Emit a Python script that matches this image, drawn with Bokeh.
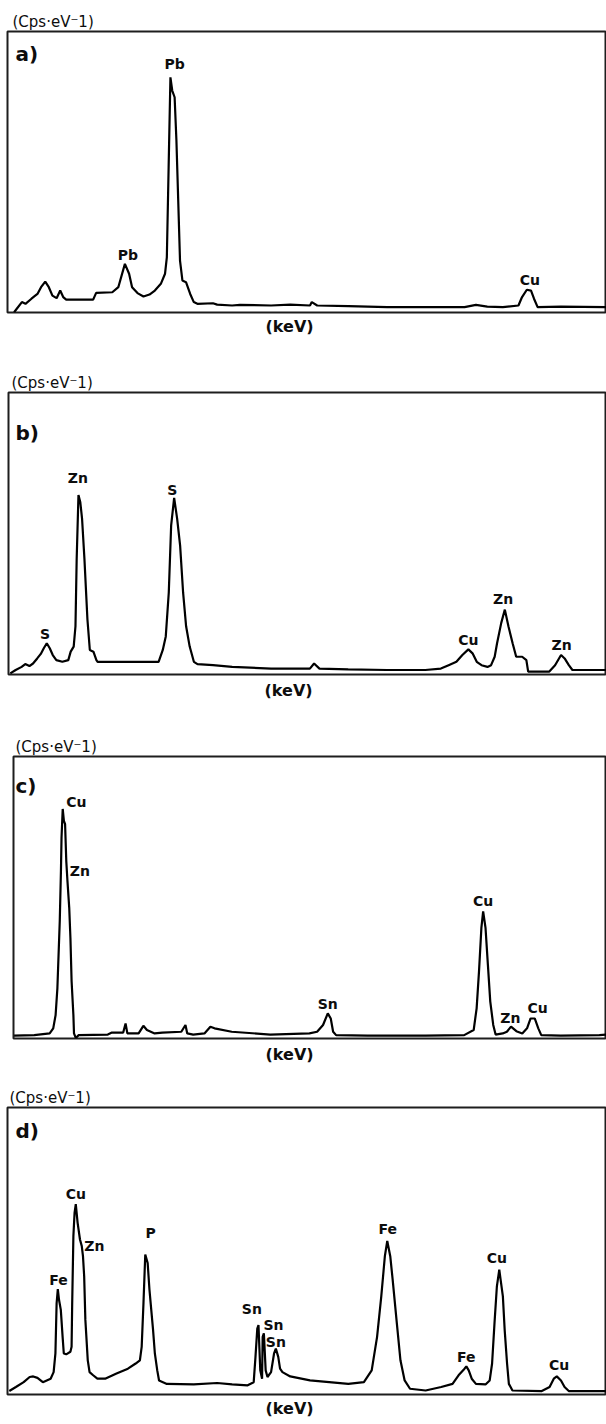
from bokeh.plotting import figure
from bokeh.layouts import column, row
from bokeh.models import Range1d, Label, ColumnDataSource, Title
from bokeh.core.properties import value
from bokeh.embed import file_html
from bokeh.resources import INLINE

# ---------------- data (energy in keV, intensity in relative counts) ----------------
energy_a = [0.11, 0.24, 0.30, 0.40, 0.50, 0.56, 0.63, 0.69, 0.75, 0.82, 0.88, 0.93, 0.98, 1.43, 1.48,
            1.75, 1.85, 1.96, 2.03, 2.08, 2.17, 2.27, 2.37, 2.46, 2.56, 2.63, 2.66, 2.69, 2.72, 2.75,
            2.79, 2.82, 2.85, 2.88, 2.92, 2.98, 3.05, 3.11, 3.17, 3.43, 3.50, 3.75, 3.88, 4.40, 4.72,
            5.05, 5.08, 5.17, 5.69, 6.34, 6.98, 7.63, 7.82, 8.01, 8.27, 8.53, 8.59, 8.67, 8.74, 8.79,
            8.85, 9.24, 10.0]
counts_a = [0.1, 3.7, 3.1, 4.9, 6.6, 9.0, 11.0, 9.0, 6.0, 5.1, 7.8, 5.5, 4.6, 4.6, 7.0,
            7.2, 9.0, 17.3, 13.8, 9.0, 6.9, 5.7, 6.4, 7.8, 10.2, 13.8, 19.6, 51.7, 83.7, 79.0,
            76.6, 61.2, 39.9, 18.5, 11.4, 10.8, 6.6, 3.7, 3.1, 3.3, 2.8, 2.5, 2.7, 2.5, 2.8,
            2.5, 3.7, 2.5, 2.3, 1.9, 1.9, 1.9, 2.7, 2.1, 1.9, 2.5, 5.5, 8.1, 7.8, 4.9,
            1.9, 2.1, 1.9]
peaks_a = ["Pb", "Pb", "Cu"]
peak_x_a = [2.79, 2.01, 8.72]
peak_y_a = [88.5, 20.3, 11.4]

energy_b = [0.03, 0.12, 0.22, 0.28, 0.35, 0.41, 0.48, 0.54, 0.59, 0.64, 0.69, 0.74, 0.80, 0.90, 1.00,
            1.04, 1.09, 1.12, 1.14, 1.17, 1.20, 1.23, 1.27, 1.32, 1.36, 1.42, 1.47, 1.49, 1.80, 2.26,
            2.51, 2.58, 2.63, 2.68, 2.72, 2.77, 2.82, 2.87, 2.92, 2.97, 3.03, 3.10, 3.16, 3.42, 3.74,
            4.39, 5.04, 5.11, 5.20, 5.68, 6.33, 6.97, 7.23, 7.36, 7.49, 7.59, 7.69, 7.76, 7.83, 7.91,
            8.01, 8.07, 8.13, 8.17, 8.24, 8.30, 8.36, 8.43, 8.49, 8.59, 8.66, 8.69, 9.04, 9.14, 9.24,
            9.30, 9.37, 9.43, 10.0]
counts_b = [0.4, 1.6, 2.7, 3.7, 3.0, 3.9, 5.7, 7.3, 9.3, 11.1, 9.3, 6.9, 5.1, 4.5, 5.1,
            8.1, 9.9, 17.1, 40.9, 63.6, 61.2, 55.3, 40.9, 19.5, 8.7, 8.1, 5.1, 4.5, 4.5, 4.5,
            4.5, 8.7, 13.5, 29.0, 52.9, 62.6, 55.3, 45.7, 29.0, 17.1, 9.9, 4.5, 3.7, 3.3, 2.7,
            2.1, 2.1, 3.9, 2.1, 1.8, 1.6, 1.6, 2.1, 3.3, 4.5, 6.9, 8.9, 7.5, 4.5, 3.3,
            2.7, 3.3, 6.3, 11.1, 18.3, 23.0, 17.1, 11.1, 6.3, 6.3, 5.1, 1.0, 1.0, 3.3, 6.9,
            5.7, 3.3, 1.6, 1.6]
peaks_b = ["S", "Zn", "S", "Cu", "Zn", "Zn"]
peak_x_b = [0.61, 1.16, 2.74, 7.69, 8.27, 9.25]
peak_y_b = [14.4, 69.6, 65.4, 12.3, 26.6, 10.5]

energy_c = [0.01, 0.35, 0.61, 0.67, 0.71, 0.74, 0.76, 0.78, 0.80, 0.81, 0.83, 0.85, 0.87, 0.89, 0.91,
            0.94, 0.96, 0.98, 1.01, 1.02, 1.05, 1.10, 1.59, 1.66, 1.85, 1.89, 1.92, 2.11, 2.19, 2.25,
            2.38, 2.51, 2.83, 2.90, 2.93, 3.03, 3.22, 3.32, 3.39, 3.68, 4.33, 4.99, 5.12, 5.22, 5.30,
            5.35, 5.39, 5.44, 5.97, 6.95, 7.60, 7.76, 7.81, 7.85, 7.89, 7.92, 7.96, 8.00, 8.04, 8.09,
            8.13, 8.25, 8.32, 8.39, 8.48, 8.58, 8.66, 8.72, 8.79, 8.85, 8.90, 9.23, 9.88, 10.0]
counts_c = [1.0, 1.2, 1.8, 3.6, 8.3, 17.8, 29.7, 41.6, 59.4, 71.3, 81.4, 77.2, 76.0, 62.9, 55.8,
            46.3, 35.6, 20.2, 8.3, 1.8, 0.2, 1.2, 1.4, 2.1, 2.1, 5.3, 1.8, 1.8, 4.5, 3.0,
            1.8, 2.1, 2.4, 4.8, 1.8, 1.4, 1.8, 4.2, 3.6, 2.4, 1.4, 1.8, 2.4, 4.8, 8.9,
            7.1, 2.4, 1.2, 1.0, 1.0, 1.2, 3.0, 10.7, 23.8, 39.2, 45.1, 39.2, 26.1, 13.1, 4.8,
            1.4, 1.8, 2.4, 4.2, 2.6, 1.8, 3.6, 7.1, 7.1, 3.6, 1.2, 1.0, 1.2, 1.4]
peaks_c = ["Cu", "Zn", "Sn", "Cu", "Zn", "Cu"]
peak_x_c = [1.06, 1.12, 5.30, 7.92, 8.38, 8.84]
peak_y_c = [83.7, 59.4, 12.1, 48.7, 7.1, 10.9]

energy_d = [0.03, 0.14, 0.27, 0.37, 0.43, 0.50, 0.59, 0.72, 0.77, 0.80, 0.82, 0.84, 0.86, 0.89, 0.92,
            0.94, 0.98, 1.05, 1.07, 1.08, 1.10, 1.12, 1.14, 1.17, 1.21, 1.24, 1.26, 1.28, 1.30, 1.34,
            1.37, 1.43, 1.50, 1.63, 1.82, 2.01, 2.14, 2.21, 2.24, 2.27, 2.30, 2.34, 2.37, 2.40, 2.43,
            2.46, 2.50, 2.53, 2.66, 3.11, 3.50, 3.75, 4.01, 4.11, 4.14, 4.17, 4.19, 4.22, 4.25, 4.26,
            4.28, 4.31, 4.34, 4.40, 4.45, 4.48, 4.52, 4.55, 4.59, 4.72, 5.05, 5.69, 5.95, 6.08, 6.17,
            6.24, 6.30, 6.34, 6.39, 6.43, 6.50, 6.56, 6.63, 6.72, 6.98, 7.24, 7.43, 7.53, 7.63, 7.66,
            7.70, 7.75, 7.82, 7.98, 8.05, 8.09, 8.13, 8.17, 8.21, 8.24, 8.27, 8.30, 8.34, 8.37, 8.43,
            8.92, 9.05, 9.12, 9.17, 9.24, 9.30, 9.37, 10.0]
counts_d = [1.2, 2.6, 4.3, 6.1, 6.3, 5.8, 4.3, 5.5, 7.8, 14.3, 31.8, 36.7, 33.0, 29.5, 20.1,
            14.3, 14.0, 14.9, 16.6, 31.8, 55.2, 63.4, 66.3, 59.9, 54.0, 51.7, 48.2, 41.2, 26.0, 11.9,
            7.8, 6.7, 5.5, 5.5, 7.3, 9.0, 10.8, 11.9, 16.6, 31.8, 48.8, 45.8, 36.5, 29.5, 22.5,
            14.3, 8.4, 4.9, 3.7, 3.5, 4.0, 3.5, 3.2, 4.3, 13.1, 23.0, 24.2, 8.4, 5.5, 20.1,
            21.3, 8.4, 6.1, 7.8, 14.3, 16.0, 13.1, 9.0, 7.8, 6.3, 4.9, 3.7, 4.3, 8.4, 20.1,
            34.2, 48.2, 53.5, 48.2, 40.0, 24.8, 11.9, 4.9, 2.0, 1.4, 2.6, 3.7, 6.7, 9.0, 9.8,
            8.4, 5.5, 3.7, 3.5, 4.9, 10.8, 24.8, 37.7, 43.5, 38.8, 34.2, 22.5, 10.8, 3.7, 1.4,
            1.2, 2.6, 5.5, 6.3, 4.9, 2.6, 1.2, 1.2]
peaks_d = ["Fe", "Cu", "Zn", "P", "Sn", "Sn", "Sn", "Fe", "Fe", "Cu", "Cu"]
peak_x_d = [0.85, 1.14, 1.45, 2.39, 4.08, 4.44, 4.48, 6.35, 7.66, 8.17, 9.21]
peak_y_d = [39.8, 69.8, 51.7, 56.4, 29.9, 24.2, 18.4, 57.8, 13.1, 47.6, 10.2]

y_unit_text = "(Cps·eV⁻1)"
x_unit_text = "(keV)"
panel_tags = ["a)", "b)", "c)", "d)"]

FONT = "DejaVu Sans"
INK = "#0d0d0d"


def make_panel(energy, counts, tag, names, px, py, height, left, top, bottom,
               title_dx, tag_pos, kev_dx, kev_standoff):
    p = figure(width=606, height=height, x_range=Range1d(0, 10), y_range=Range1d(0, 100),
               output_backend="svg", toolbar_location=None,
               x_axis_location=None, y_axis_location=None,
               min_border_left=left, min_border_right=0,
               min_border_top=top, min_border_bottom=bottom)
    p.xgrid.visible = False
    p.ygrid.visible = False
    p.outline_line_color = "#1e1e1e"
    p.outline_line_width = 2
    p.background_fill_color = "white"
    p.border_fill_color = "white"

    p.add_layout(Title(text=y_unit_text, align="left", offset=title_dx, standoff=2,
                       text_font=FONT, text_font_size="15px", text_font_style="normal",
                       text_color=INK), "above")
    p.add_layout(Title(text=x_unit_text, align="left", offset=kev_dx, standoff=kev_standoff,
                       text_font=FONT, text_font_size="16px", text_font_style="bold",
                       text_color=INK), "below")

    p.line(energy, counts, line_color="black", line_width=2.2)

    src = ColumnDataSource(dict(x=px, y=py, t=names))
    p.text(x="x", y="y", text="t", source=src, text_font=value(FONT), text_font_size="14px",
           text_font_style="bold", text_color=INK, text_align="center", text_baseline="middle")

    p.add_layout(Label(x=tag_pos[0], y=tag_pos[1], x_units="screen", y_units="screen",
                       text=tag, text_font=FONT, text_font_size="20px", text_font_style="bold",
                       text_color=INK, text_align="left", text_baseline="middle"))
    return p


pa = make_panel(energy_a, counts_a, panel_tags[0], peaks_a, peak_x_a, peak_y_a,
                362, 7, 31, 50, 5, (8, 259), 258, 5)
pb = make_panel(energy_b, counts_b, panel_tags[1], peaks_b, peak_x_b, peak_y_b,
                363, 8, 30, 51, 3, (7, 242), 256, 9)
pc = make_panel(energy_c, counts_c, panel_tags[2], peaks_c, peak_x_c, peak_y_c,
                350, 13, 31, 37, 2, (2, 253), 252, 8)
pd = make_panel(energy_d, counts_d, panel_tags[3], peaks_d, peak_x_d, peak_y_d,
                349, 7, 32, 30, 2, (8, 264), 258, 4)

layout = column(row(pa), row(pb), row(pc), row(pd), spacing=0)
open("out.html", "w").write(file_html(layout, INLINE))
